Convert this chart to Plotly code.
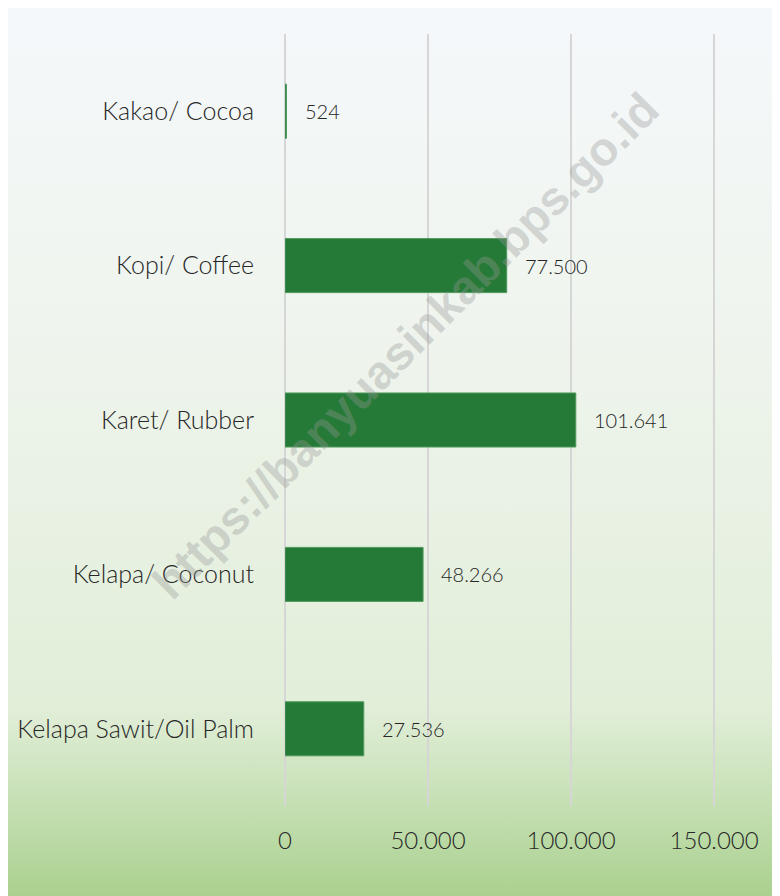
import base64
import plotly.graph_objects as go

categories = ["Kakao/ Cocoa", "Kopi/ Coffee", "Karet/ Rubber", "Kelapa/ Coconut", "Kelapa Sawit/Oil Palm"]
values = [524, 77500, 101641, 48266, 27536]
value_labels = ["524", "77.500", "101.641", "48.266", "27.536"]
tick_vals = [0, 50000, 100000, 150000]
tick_text = ["0", "50.000", "100.000", "150.000"]
x_max = 151000

OFF = 8  # page body margin
W, H = 780 - OFF, 896 - OFF
L = 285 - OFF
px_per_unit = (714 - 285) / 150000
R = L + px_per_unit * x_max
T, B = 34 - OFF, 806 - OFF

FONT = "Lato"
TXT = "#262626"

svg = (
    '<svg xmlns="http://www.w3.org/2000/svg" width="100" height="100" preserveAspectRatio="none">'
    '<defs><linearGradient id="g" x1="0" y1="0" x2="0" y2="1">'
    '<stop offset="0" stop-color="#f5f8fb"/>'
    '<stop offset="0.4" stop-color="#eef4ec"/>'
    '<stop offset="0.79" stop-color="#e1eed8"/>'
    '<stop offset="1" stop-color="#aad18f"/>'
    '</linearGradient></defs><rect width="100" height="100" fill="url(#g)"/></svg>'
)
src = "data:image/svg+xml;base64," + base64.b64encode(svg.encode()).decode()

pw, ph = R - L, B - T
def px2x(p): return (p - L) / pw
def py2y(p): return (B - p) / ph

fig = go.Figure()
fig.add_trace(go.Bar(
    x=values, y=categories, orientation="h",
    marker=dict(color="#267a37", line=dict(color="#4f9a5e", width=1)),
    width=0.35, hoverinfo="skip",
))

for v, c, t in zip(values, categories, value_labels):
    fig.add_annotation(x=v, y=c, text=t, showarrow=False, xanchor="left",
                       xshift=16, font=dict(family=FONT, size=20, color=TXT, weight=300))

fig.add_annotation(xref="paper", yref="paper", x=px2x(405 - OFF), y=py2y(345 - OFF),
                   xanchor="center", yanchor="middle",
                   text="https://banyuasinkab.bps.go.id", showarrow=False,
                   textangle=-45, font=dict(family="Liberation Sans", size=47,
                   color="rgba(150,150,150,0.36)", weight=700))

fig.add_layout_image(dict(source=src, xref="paper", yref="paper",
                          x=px2x(0), y=py2y(0), sizex=W / pw, sizey=H / ph,
                          xanchor="left", yanchor="top", sizing="stretch", layer="below"))

fig.update_layout(
    width=W, height=H,
    margin=dict(l=L, r=W - R, t=T, b=H - B, pad=0, autoexpand=False),
    paper_bgcolor="white", plot_bgcolor="rgba(0,0,0,0)",
    showlegend=False,
    xaxis=dict(range=[0, x_max], tickvals=tick_vals, ticktext=tick_text,
               showgrid=True, gridcolor="#d6d6d6", gridwidth=1.5,
               zeroline=True, zerolinecolor="#d6d6d6", zerolinewidth=1.5,
               showline=False, ticks="", ticklabelstandoff=18, automargin=False,
               tickfont=dict(family=FONT, size=24, color=TXT, weight=300)),
    yaxis=dict(categoryorder="array", categoryarray=categories, autorange="reversed",
               showgrid=False, zeroline=False, showline=False, ticks="",
               ticklabelstandoff=30, automargin=False,
               tickfont=dict(family=FONT, size=25, color=TXT, weight=300)),
)

fig.write_html("out.html")
